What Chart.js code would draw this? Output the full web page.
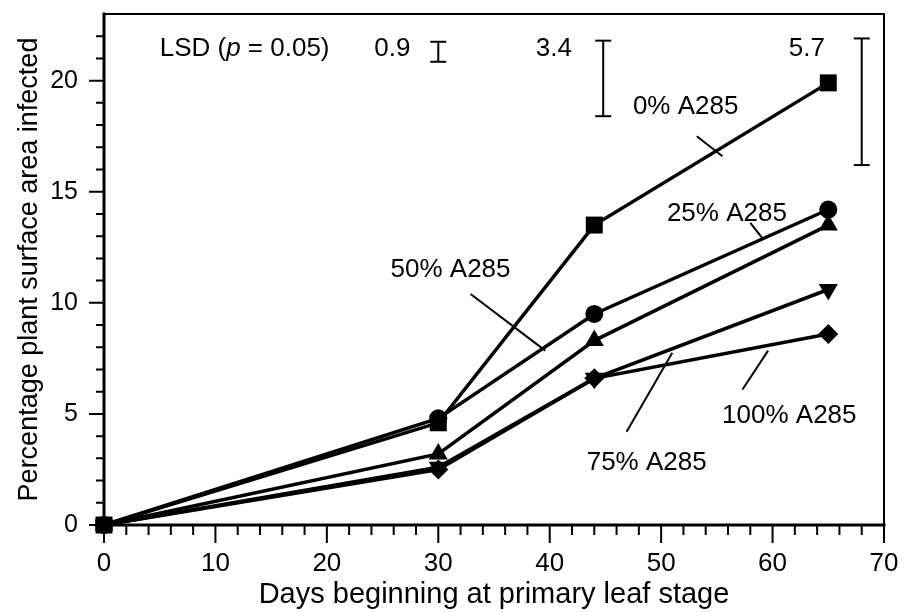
<!DOCTYPE html>
<html>
<head>
<meta charset="utf-8">
<script src="https://cdn.jsdelivr.net/npm/chart.js@4.4.0/dist/chart.umd.min.js"></script>
<style>
  html, body { margin: 0; padding: 0; background: #fff; }
  #wrap { width: 916px; height: 612px; }
</style>
</head>
<body>
<div id="wrap"><canvas id="chart"></canvas></div>
<script>
// days after primary leaf stage and % surface area infected per A285 level
const days = [0, 30, 44, 65]
const pct0 = [0, 4.6, 13.5, 19.9]
const pct25 = [0, 4.8, 9.5, 14.2]
const pct50 = [0, 3.2, 8.3, 13.5]
const pct75 = [0, 2.6, 6.6, 10.6]
const pct100 = [0, 2.5, 6.6, 8.6]
const seriesNames = ['0% A285', '25% A285', '50% A285', '75% A285', '100% A285']

// LSD (p = 0.05) bars: value, where drawn, top of bar
const lsdValues = [0.9, 3.4, 5.7]
const lsdDays = [30, 44.8, 68]
const lsdTops = [21.75, 21.8, 21.9]

const xTicks = [0, 10, 20, 30, 40, 50, 60, 70]
const yTicks = [0, 5, 10, 15, 20]

// label placement (data units) and leader lines
const notes = [
  { text: seriesNames[0], at: [52.2, 18.8], lead: [[53.2, 17.5], [55.5, 16.6]] },
  { text: seriesNames[1], at: [55.9, 14.0], lead: [[58.0, 13.6], [59.1, 12.9]] },
  { text: seriesNames[2], at: [31.1, 11.5], lead: [[32.9, 10.4], [39.6, 7.85]] },
  { text: seriesNames[3], at: [48.7, 2.8], lead: [[46.9, 4.2], [51.0, 7.75]] },
  { text: seriesNames[4], at: [61.5, 4.9], lead: [[57.3, 6.1], [59.6, 7.85]] }
]
const lsdLabelRight = [27.5, 42.0, 64.7]
const lsdTextY = 21.43

const FONT = "'Liberation Sans', Arial, Helvetica, sans-serif"

const toPts = (ys) => days.map((d, i) => ({ x: d, y: ys[i] }))

const mk = (name, ys, style, radius, rotation) => ({
  label: name,
  data: toPts(ys),
  borderColor: '#000',
  backgroundColor: '#000',
  borderWidth: 3.5,
  pointStyle: style,
  pointRadius: radius,
  pointRotation: rotation || 0,
  pointBorderWidth: 0,
  pointBackgroundColor: '#000',
  clip: false
})

const datasets = [
  mk(seriesNames[4], pct100, 'rectRot', 10),
  mk(seriesNames[3], pct75, 'triangle', 11, 180),
  mk(seriesNames[2], pct50, 'triangle', 11),
  mk(seriesNames[1], pct25, 'circle', 9),
  mk(seriesNames[0], pct0, 'rect', 12)
]

lsdValues.forEach((v, i) => {
  datasets.push({
    label: 'LSD ' + v,
    data: [{ x: lsdDays[i], y: lsdTops[i] - v }, { x: lsdDays[i], y: lsdTops[i] }],
    borderColor: '#000',
    borderWidth: 2,
    pointStyle: 'line',
    pointRadius: 8,
    pointBorderWidth: 2,
    pointBorderColor: '#000',
    clip: false
  })
})

const frame = {
  id: 'frame',
  afterDraw(chart) {
    const { ctx, chartArea: a, scales: { x, y } } = chart
    ctx.save()
    ctx.strokeStyle = '#000'
    ctx.lineCap = 'square'
    // box
    ctx.lineWidth = 2
    ctx.beginPath()
    ctx.moveTo(a.left, a.top); ctx.lineTo(a.right, a.top); ctx.lineTo(a.right, a.bottom)
    ctx.stroke()
    ctx.lineWidth = 3
    ctx.beginPath()
    ctx.moveTo(a.left, a.top); ctx.lineTo(a.left, a.bottom); ctx.lineTo(a.right, a.bottom)
    ctx.stroke()
    // tick marks
    ctx.lineWidth = 2
    ctx.lineCap = 'butt'
    ctx.beginPath()
    for (let v = 0; v <= 70; v += 2) {
      const px = x.getPixelForValue(v)
      ctx.moveTo(px, a.bottom); ctx.lineTo(px, a.bottom + (v % 10 === 0 ? 18 : 10))
    }
    for (let v = 0; v <= 22; v += 1) {
      const py = y.getPixelForValue(v)
      ctx.moveTo(a.left, py); ctx.lineTo(a.left - (v % 5 === 0 ? 15 : 8), py)
    }
    ctx.stroke()

    // series labels and leaders
    ctx.fillStyle = '#000'
    ctx.font = '26px ' + FONT
    ctx.textAlign = 'center'
    ctx.textBaseline = 'middle'
    ctx.lineWidth = 2
    notes.forEach(n => {
      ctx.fillText(n.text, x.getPixelForValue(n.at[0]), y.getPixelForValue(n.at[1]))
      ctx.beginPath()
      ctx.moveTo(x.getPixelForValue(n.lead[0][0]), y.getPixelForValue(n.lead[0][1]))
      ctx.lineTo(x.getPixelForValue(n.lead[1][0]), y.getPixelForValue(n.lead[1][1]))
      ctx.stroke()
    })

    // LSD header
    const ty = y.getPixelForValue(lsdTextY)
    let tx = x.getPixelForValue(5.0)
    ctx.textAlign = 'left'
    const parts = [['LSD (', ''], ['p', 'italic '], [' = 0.05)', '']]
    parts.forEach(([s, st]) => {
      ctx.font = st + '26px ' + FONT
      ctx.fillText(s, tx, ty)
      tx += ctx.measureText(s).width
    })
    ctx.font = '26px ' + FONT
    ctx.textAlign = 'right'
    lsdValues.forEach((v, i) => {
      ctx.fillText(v.toFixed(1), x.getPixelForValue(lsdLabelRight[i]), ty)
    })
    ctx.restore()
  }
}

new Chart(document.getElementById('chart'), {
  type: 'line',
  data: { datasets },
  plugins: [frame],
  options: {
    responsive: true,
    maintainAspectRatio: false,
    animation: false,
    events: [],
    layout: { padding: { left: 0, right: 32, top: 14, bottom: 0 } },
    plugins: { legend: { display: false }, tooltip: { enabled: false } },
    scales: {
      x: {
        type: 'linear',
        min: 0,
        max: 70,
        afterFit: (s) => { s.height = 87; s.paddingLeft = 0; s.paddingRight = 0 },
        afterBuildTicks: (s) => { s.ticks = xTicks.map(v => ({ value: v })) },
        grid: { display: false, drawTicks: false },
        border: { display: false },
        ticks: { color: '#000', padding: 23, font: { family: FONT, size: 26 }, maxRotation: 0 },
        title: { display: true, text: 'Days beginning at primary leaf stage', color: '#000', font: { family: FONT, size: 29 }, padding: { top: 0, bottom: 0 } }
      },
      y: {
        type: 'linear',
        min: 0,
        max: 23,
        afterFit: (s) => { s.width = 104; s.paddingTop = 0; s.paddingBottom = 0 },
        afterBuildTicks: (s) => { s.ticks = yTicks.map(v => ({ value: v })) },
        grid: { display: false, drawTicks: false },
        border: { display: false },
        ticks: { color: '#000', padding: 26, font: { family: FONT, size: 25 } },
        title: { display: true, text: 'Percentage plant surface area infected', color: '#000', font: { family: FONT, size: 27 }, padding: { top: 13, bottom: 0 } }
      }
    }
  }
})
</script>
</body>
</html>
